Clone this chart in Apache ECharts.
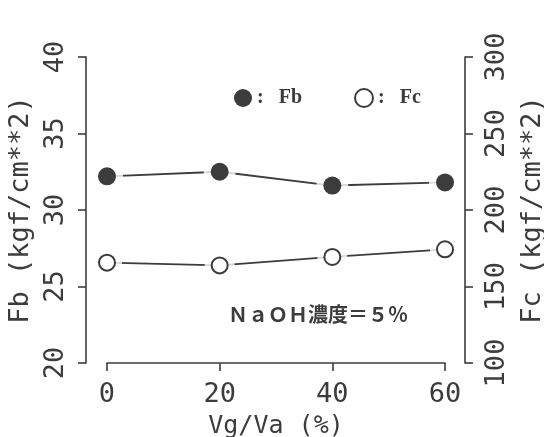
<!DOCTYPE html>
<html><head><meta charset="utf-8">
<script src="https://cdn.jsdelivr.net/npm/echarts@6/dist/echarts.min.js"></script>
<style>html,body{margin:0;padding:0;background:#fff}#c{width:544px;height:437px}</style>
</head><body><div id="c"></div>
<script>
const vgva = [0, 20, 40, 60];
const fb = [32.2, 32.5, 31.6, 31.8];
const fc = [165.6, 163.8, 169.3, 174.3];
const xTicks = [0, 20, 40, 60];
const fbTicks = [20, 25, 30, 35, 40];
const fcTicks = [100, 150, 200, 250, 300];
const seriesNames = ['Fb', 'Fc'];
const note = 'ＮａＯＨ濃度＝５％';

const ink = '#3c3c3c';
const mono = 'DejaVu Sans Mono';
const pairs = (xs, ys) => xs.map((x, i) => [x, ys[i]]);

const axisCommon = {
  axisLine: { show: true, onZero: false, lineStyle: { color: ink, width: 1.6 } },
  axisTick: { show: true, inside: false, length: 8, lineStyle: { color: ink, width: 1.6 } },
  splitLine: { show: false },
  nameLocation: 'middle'
};

const chart = echarts.init(document.getElementById('c'));
chart.setOption({
  animation: false,
  backgroundColor: '#fff',
  grid: { left: 107, right: 99, top: 57, bottom: 74, containLabel: false, outerBoundsMode: 'none' },
  legend: {
    data: seriesNames,
    left: 229, top: 83,
    icon: 'circle',
    itemWidth: 18, itemHeight: 18, itemGap: 52,
    formatter: n => ':   ' + n,
    textStyle: { fontFamily: 'Liberation Serif', fontWeight: 'bold', fontSize: 20, color: ink }
  },
  xAxis: Object.assign({}, axisCommon, {
    type: 'value',
    min: xTicks[0], max: xTicks[xTicks.length - 1], interval: xTicks[1] - xTicks[0],
    name: 'Vg/Va (%)', nameGap: 51,
    nameTextStyle: { fontFamily: mono, fontSize: 25, color: ink },
    axisLabel: { margin: 18, fontFamily: mono, fontSize: 27, color: ink }
  }),
  yAxis: [
    Object.assign({}, axisCommon, {
      type: 'value', position: 'left', offset: 21,
      min: fbTicks[0], max: fbTicks[fbTicks.length - 1], interval: fbTicks[1] - fbTicks[0],
      name: 'Fb (kgf/cm**2)', nameGap: 41, nameRotate: 90,
      nameTextStyle: { fontFamily: mono, fontSize: 27, color: ink },
      axisLabel: { rotate: 90, margin: 17, fontFamily: mono, fontSize: 27, color: ink }
    }),
    Object.assign({}, axisCommon, {
      type: 'value', position: 'right', offset: 20,
      min: fcTicks[0], max: fcTicks[fcTicks.length - 1], interval: fcTicks[1] - fcTicks[0],
      name: 'Fc (kgf/cm**2)', nameGap: 54, nameRotate: 90,
      nameTextStyle: { fontFamily: mono, fontSize: 27, color: ink },
      axisLabel: { rotate: 90, margin: 18, fontFamily: mono, fontSize: 27, color: ink }
    })
  ],
  series: [
    { type: 'line', name: 'FbLine', yAxisIndex: 0, data: pairs(vgva, fb), showSymbol: false, z: 2,
      lineStyle: { color: ink, width: 1.8 }, silent: true },
    { type: 'line', name: 'FcLine', yAxisIndex: 1, data: pairs(vgva, fc), showSymbol: false, z: 2,
      lineStyle: { color: ink, width: 1.8 }, silent: true },
    { type: 'scatter', name: 'FbHalo', yAxisIndex: 0, data: pairs(vgva, fb), symbolSize: 32, z: 3,
      itemStyle: { color: '#fff' }, silent: true },
    { type: 'scatter', name: 'FcHalo', yAxisIndex: 1, data: pairs(vgva, fc), symbolSize: 30, z: 3,
      itemStyle: { color: '#fff' }, silent: true },
    { type: 'scatter', name: seriesNames[0], yAxisIndex: 0, data: pairs(vgva, fb), symbol: 'circle', symbolSize: 18, z: 4,
      itemStyle: { color: ink, opacity: 1 } },
    { type: 'scatter', name: seriesNames[1], yAxisIndex: 1, data: pairs(vgva, fc), symbol: 'circle', symbolSize: 16, z: 4,
      itemStyle: { color: '#fff', borderColor: ink, borderWidth: 2, opacity: 1 } }
  ],
  graphic: [{
    type: 'text', left: 228, top: 304, z: 10,
    style: { text: note, fontFamily: 'Noto Sans CJK JP', fontWeight: 'bold', fontSize: 20, fill: ink }
  }]
});
</script></body></html>
